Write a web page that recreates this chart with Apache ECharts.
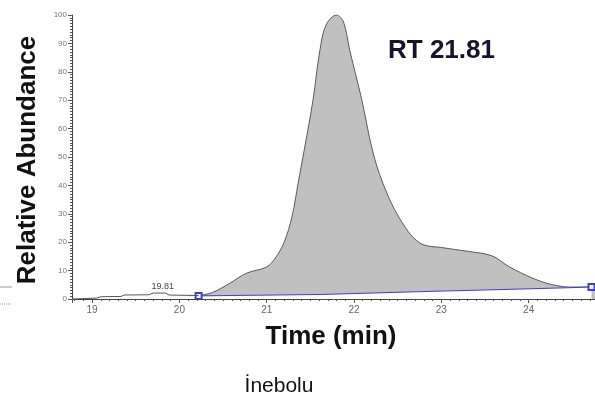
<!DOCTYPE html>
<html>
<head>
<meta charset="utf-8">
<script src="https://cdn.jsdelivr.net/npm/echarts@6/dist/echarts.min.js"></script>
<style>
html,body{margin:0;padding:0;background:#fff;}
#c{width:595px;height:401px;}
</style>
</head>
<body>
<div id="c"></div>
<script>
// Pre-peak trace (time in min, relative abundance %)
var preTimes  = [18.77, 19.05, 19.10, 19.33, 19.37, 19.65, 19.70, 19.84, 19.88, 20.22];
var preValues = [0.0,   0.3,   0.8,   0.9,   1.4,   1.5,   2.1,   2.1,   1.4,   1.2];

// Main peak trace
var peakTimes  = [20.22, 20.38, 20.58, 20.77, 21.00, 21.10, 21.20, 21.29, 21.36, 21.43, 21.53, 21.61, 21.68, 21.80, 21.88, 21.95, 22.09, 22.21, 22.33, 22.52, 22.75, 23.03, 23.30, 23.58, 23.78, 24.04, 24.20, 24.31, 24.46, 24.76];
var peakValues = [1.2,   2.3,   5.6,   9.1,   11.3,  14.5,  20.0,  29.0,  40.8,  52.5,  70.0,  87.7,  96.5,  100.0, 97.5,  87.7,  70.0,  52.5,  40.8,  28.5,  19.8,  18.0,  16.8,  15.2,  11.3,  7.4,   5.6,   4.8,   4.2,   4.3];

// Integration baseline
var baseTimes  = [20.22, 21.64, 22.77, 23.90, 24.72];
var baseValues = [1.1,   1.6,   2.6,   3.5,   4.2];

// Annotations
var minorPeakTime = 19.81;
var minorPeakValue = 2.1;
var minorPeakLabel = '19.81';
var rtLabel = 'RT 21.81';
var xTitle = 'Time (min)';
var yTitle = 'Relative Abundance';
var caption = 'İnebolu';

function pairs(t, v) { return t.map(function (x, i) { return [x, v[i]]; }); }

var baseData = pairs(baseTimes, baseValues).map(function (p, i, arr) {
  var end = (i === 0 || i === arr.length - 1);
  return { value: p, symbol: end ? 'emptyRect' : 'none', symbolSize: end ? 6 : 0 };
});

var chart = echarts.init(document.getElementById('c'), null, { renderer: 'canvas' });
var font = 'Arial, "Liberation Sans", sans-serif';
chart.setOption({
  animation: false,
  backgroundColor: '#fff',
  grid: { left: 72, right: 0, top: 15, bottom: 102, containLabel: false },
  xAxis: {
    type: 'value', min: 18.77, max: 24.76, splitNumber: 6, z: 10,
    axisLine: { show: true, lineStyle: { color: '#444', width: 1 } },
    axisTick: { show: true, length: 4, lineStyle: { color: '#555' } },
    minorTick: { show: true, splitNumber: 10, length: 2, lineStyle: { color: '#555' } },
    splitLine: { show: false },
    axisLabel: { showMinLabel: false, showMaxLabel: false, fontSize: 10, color: '#666', margin: 6, fontFamily: font }
  },
  yAxis: {
    type: 'value', min: 0, max: 100, interval: 10, z: 10,
    axisLine: { show: true, lineStyle: { color: '#444', width: 1 } },
    axisTick: { show: true, length: 4, lineStyle: { color: '#555' } },
    minorTick: { show: true, splitNumber: 10, length: 2, lineStyle: { color: '#555' } },
    splitLine: { show: false },
    axisLabel: { fontSize: 8, color: '#777', margin: 5, fontFamily: font }
  },
  series: [
    {
      type: 'line', data: pairs(peakTimes, peakValues), smooth: 0.35,
      showSymbol: false, symbol: 'none',
      lineStyle: { color: '#5a5a5a', width: 1 },
      areaStyle: { color: '#c0c0c0', opacity: 1 }, z: 2
    },
    {
      type: 'line', data: baseData,
      lineStyle: { color: '#3c3cd8', width: 1 },
      itemStyle: { color: '#3c3cd8', borderColor: '#3c3cd8', borderWidth: 1 },
      areaStyle: { color: '#ffffff', opacity: 1 }, z: 3
    },
    {
      type: 'line', data: pairs(preTimes, preValues), symbol: 'none', showSymbol: false,
      lineStyle: { color: '#555', width: 1 },
      markPoint: {
        symbol: 'circle', symbolSize: 0, silent: true,
        data: [{ coord: [minorPeakTime, minorPeakValue] }],
        label: { show: true, position: 'top', distance: 2, formatter: minorPeakLabel, fontSize: 9, color: '#444', fontFamily: font }
      },
      z: 4
    }
  ],
  graphic: [
    { type: 'text', x: 388, y: 51, style: { text: rtLabel, font: 'bold 26px ' + font, fill: '#14142a', textVerticalAlign: 'middle' } },
    { type: 'text', x: 331, y: 337, style: { text: xTitle, font: 'bold 26px ' + font, fill: '#111', textAlign: 'center', textVerticalAlign: 'middle' } },
    { type: 'text', x: 28, y: 160, rotation: Math.PI / 2, style: { text: yTitle, font: 'bold 26px ' + font, fill: '#111', textAlign: 'center', textVerticalAlign: 'middle' } },
    { type: 'text', x: 279, y: 386, style: { text: caption, font: '21px ' + font, fill: '#111', textAlign: 'center', textVerticalAlign: 'middle' } },
    { type: 'line', shape: { x1: 0, y1: 287, x2: 12, y2: 287 }, style: { stroke: '#999', lineWidth: 1 } },
    { type: 'line', shape: { x1: 0, y1: 304, x2: 12, y2: 304 }, style: { stroke: '#999', lineWidth: 1, lineDash: [1, 1] } }
  ]
});
</script>
</body>
</html>
